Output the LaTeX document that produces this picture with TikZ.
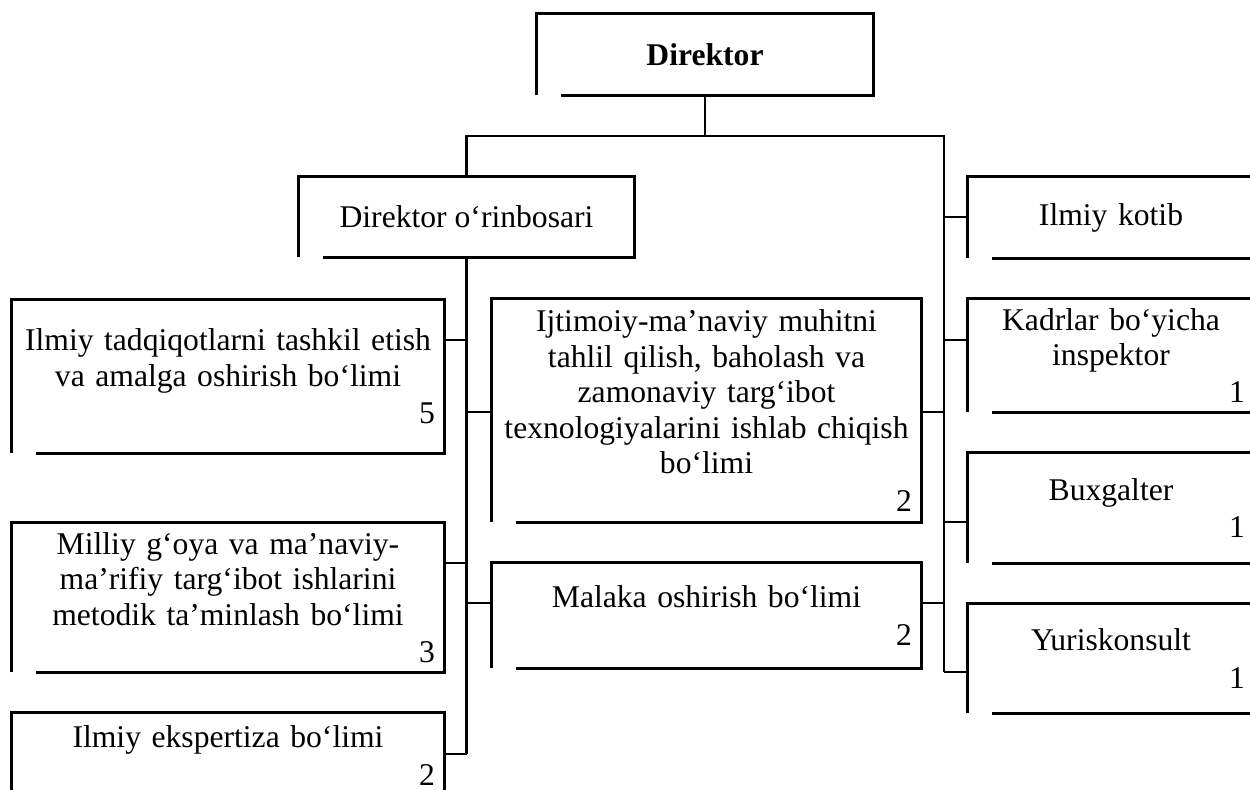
\documentclass[tikz,border=0pt]{standalone}
\usepackage{fontspec}
\setmainfont{Liberation Serif}
\newcommand{\staffno}[1]{\\[1pt]\hfill #1}
\begin{document}
\begin{tikzpicture}[x=0.02cm, y=-0.02cm,
  every node/.style={font=\fontsize{18}{20.2}\selectfont},
  unit/.style={inner xsep=0.18cm, inner ysep=0pt, align=center},
  rim/.style={line width=1.5pt},
  link/.style={line width=1.4pt}]
\useasboundingbox (0,0) rectangle (1250,790);

\node[unit, minimum width=6.72cm, minimum height=1.62cm] (dir) at (705,54.5) {\textbf{Direktor}};
\node[unit, minimum width=6.7cm, minimum height=1.6cm] (zam) at (466.5,217) {Direktor o‘rinbosari};

\node[unit, text width=8.28cm, minimum height=3.06cm] (tadq) at (228,376.5) {Ilmiy tadqiqotlarni tashkil etish\\va amalga oshirish bo‘limi\staffno{5}};
\node[unit, text width=8.28cm, minimum height=2.98cm] (mill) at (228,597.5) {Milliy g‘oya va ma’naviy-\\ma’rifiy targ‘ibot ishlarini\\metodik ta’minlash bo‘limi\staffno{3}};
\node[unit, text width=8.28cm, minimum height=1.7cm] (eksp) at (228,755.5) {Ilmiy ekspertiza bo‘limi\staffno{2}};

\node[unit, text width=8.22cm, minimum height=4.46cm] (ijt) at (706.5,410.5) {Ijtimoiy-ma’naviy muhitni\\tahlil qilish, baholash va\\zamonaviy targ‘ibot\\texnologiyalarini ishlab chiqish\\bo‘limi\staffno{2}};
\node[unit, text width=8.22cm, minimum height=2.1cm] (mal) at (706.5,615.5) {Malaka oshirish bo‘limi\staffno{2}};

\node[unit, text width=5.36cm, minimum height=1.62cm] (kot) at (1111,217.5) {Ilmiy kotib};
\node[unit, text width=5.36cm, minimum height=2.26cm] (kad) at (1111,355.5) {Kadrlar bo‘yicha\\inspektor\staffno{1}};
\node[unit, text width=5.36cm, minimum height=2.2cm] (bux) at (1111,508) {Buxgalter\staffno{1}};
\node[unit, text width=5.36cm, minimum height=2.18cm] (yur) at (1111,658.5) {Yuriskonsult\staffno{1}};

\foreach \b in {dir,zam,tadq,mill,eksp,ijt,mal,kot,kad,bux,yur}
  \draw[rim] (\b.south west) |- (\b.north east) -- (\b.south east) -- ([xshift=0.48cm]\b.south west);

\coordinate (bar) at (705,136);
\coordinate (lt) at (466.5,754);
\coordinate (rt) at (944,672);
\draw[link] (dir.south) -- (bar);
\draw[link] (zam.north) |- (bar) -| (rt);
\draw[link] (zam.south) -- (lt);

\foreach \b/\y in {tadq/340, mill/563, eksp/754}
  \draw[link] (\b.east |- 0,\y) -- (lt |- 0,\y);
\foreach \b/\y in {ijt/412, mal/603}
  {\draw[link] (\b.west |- 0,\y) -- (lt |- 0,\y);
   \draw[link] (\b.east |- 0,\y) -- (rt |- 0,\y);}
\foreach \b/\y in {kot/217, kad/340, bux/522, yur/672}
  \draw[link] (\b.west |- 0,\y) -- (rt |- 0,\y);
\end{tikzpicture}
\end{document}
